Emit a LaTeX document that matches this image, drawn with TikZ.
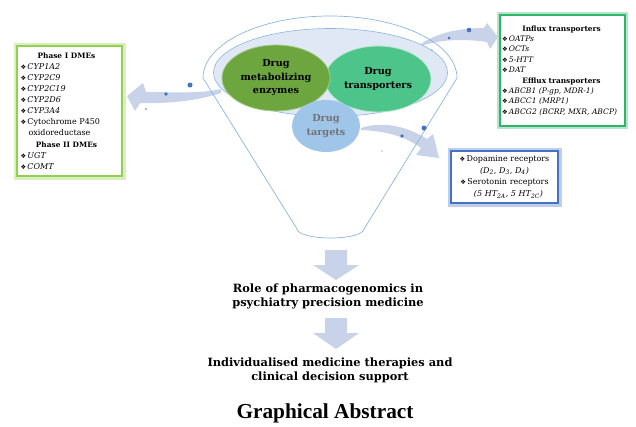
\documentclass[tikz,border=0pt]{standalone}
\usepackage{fontspec}
\setmainfont{DejaVu Serif}
\newfontfamily\symf{DejaVu Sans}
\newfontfamily\timesf{Liberation Serif}
\usetikzlibrary{shapes.geometric}
\definecolor{arrowc}{HTML}{C8D3EA}
\definecolor{dotc}{HTML}{4472C4}
\definecolor{funnelc}{HTML}{8AB6DE}
\definecolor{innerc}{HTML}{DFE8F4}
\definecolor{dmegreen}{HTML}{6DA53E}
\definecolor{trgreen}{HTML}{4DC48A}
\definecolor{tgtblue}{HTML}{9FC5E8}
\definecolor{tgtdark}{HTML}{5A9BD5}
\definecolor{boxgreen}{HTML}{92D050}
\definecolor{boxteal}{HTML}{2FB56A}
\definecolor{boxblue}{HTML}{4472C4}
\newcommand{\bul}{{\symf\fontsize{6.3}{6}\selectfont ❖}\,}
\newcommand{\ttl}[2]{\makebox[#1]{\fontsize{7.4}{8}\selectfont\bfseries #2}}
\tikzset{
  curvearrow/.style={fill=arrowc},
  dot/.style={fill=dotc},
  boxtext/.style={fill=white, inner xsep=3pt, font=\fontsize{8}{11.1}\selectfont, align=left},
  glowgreen/.style={boxtext, draw=boxgreen, line width=1.4, preaction={draw=boxgreen!35, line width=7}},
  glowteal/.style={boxtext, draw=boxteal, line width=1.6, preaction={draw=boxteal!35, line width=6}},
  glowblue/.style={boxtext, draw=boxblue, line width=1.4, preaction={draw=boxblue!35, line width=7}},
  bubble/.style={ellipse, inner sep=0pt, align=center, font=\bfseries\fontsize{9.7}{13.5}\selectfont},
  downarrow/.style={fill=arrowc},
  maintext/.style={align=center, font=\bfseries\fontsize{11.4}{14}\selectfont}
}
\begin{document}
\begin{tikzpicture}[x=1pt,y=-1pt]
\useasboundingbox (0,0) rectangle (636,426);

% curved arrows
\fill[curvearrow] (221,89) .. controls (200,94) and (170,92) .. (146,92) -- (143,83) -- (127,96) -- (135,111) -- (140,103) .. controls (170,104) and (200,100) .. (221,93) -- cycle;
\fill[curvearrow] (416,48) .. controls (430,35) and (455,28) .. (484,28) -- (487,23) -- (498,37) -- (490,49) -- (487,42) .. controls (460,38) and (435,40) .. (416,48) -- cycle;
\fill[curvearrow] (361,128) .. controls (385,120) and (410,128) .. (427,139) -- (433,134) -- (439,158) -- (416,155) -- (421,148) .. controls (405,136) and (385,131) .. (361,130) -- cycle;

% funnel
\draw[funnelc, line width=0.7] (203,78) arc[start angle=180, end angle=360, x radius=127, y radius=62] -- (364,229) arc[start angle=0, end angle=180, x radius=33.5, y radius=9] -- cycle;
\filldraw[fill=innerc, draw=funnelc, line width=0.6] (330.5,72.5) ellipse[x radius=117, y radius=44];

% bubbles
\node[bubble, fill=trgreen, draw=white!60!trgreen, line width=0.8, minimum width=106, minimum height=66] (tr) at (378,79) {Drug\\transporters};
\node[bubble, fill=dmegreen, draw=white!40!dmegreen, line width=0.8, minimum width=108, minimum height=66] (dme) at (276,78) {Drug\\metabolizing\\enzymes};
\node[bubble, fill=tgtblue, minimum width=68, minimum height=52, text=black!55,
  path picture={\fill[tgtdark] (330.5,72.5) ellipse[x radius=117, y radius=44];}] (tg) at (326,126) {Drug\\targets};

% dots
\fill[dot] (190,85) circle (2.5);
\fill[dot] (166,94) circle (1.8);
\fill[dot] (146,109) circle (0.9);
\fill[dot] (469,30) circle (2.3);
\fill[dot] (449,38) circle (1.5);
\fill[dot] (432,50) circle (0.7);
\fill[dot] (424,128) circle (2.5);
\fill[dot] (402,136) circle (1.8);
\fill[dot] (382,151) circle (0.7);

% boxes
\node[glowgreen, text width=98, minimum width=105, minimum height=130] (dmebox) at (69.5,111) {%
\ttl{92pt}{Phase I DMEs}\\
\bul\textit{CYP1A2}\\
\bul\textit{CYP2C9}\\
\bul\textit{CYP2C19}\\
\bul\textit{CYP2D6}\\
\bul\textit{CYP3A4}\\
\bul Cytochrome P450\\
\hspace*{8pt}oxidoreductase\\
\ttl{92pt}{Phase II DMEs}\\
\bul\textit{UGT}\\
\bul\textit{COMT}};

\node[glowteal, text width=121, inner xsep=2pt, minimum width=125, minimum height=111, font=\fontsize{7.6}{10.4}\selectfont] (trbox) at (562.5,70.5) {%
\ttl{119pt}{Influx transporters}\\
\bul\textit{OATPs}\\
\bul\textit{OCTs}\\
\bul\textit{5-HTT}\\
\bul\textit{DAT}\\
\ttl{119pt}{Efflux transporters}\\
\bul\textit{ABCB1 (P-gp, MDR-1)}\\
\bul\textit{ABCC1 (MRP1)}\\
\bul\textit{ABCG2 (BCRP, MXR, ABCP)}};

\node[glowblue, text width=101, minimum width=105, minimum height=52, align=center, font=\fontsize{8}{11.7}\selectfont] (tgbox) at (504.5,177) {%
\bul Dopamine receptors\\
\textit{(D\textsubscript{2}, D\textsubscript{3}, D\textsubscript{4})}\\
\bul Serotonin receptors\\
\hspace*{8pt}\textit{(5 HT\textsubscript{2A}, 5 HT\textsubscript{2C})}};

% down arrows
\fill[downarrow] (325,250) -- (347,250) -- (347,265) -- (359,265) -- (336,280) -- (313,265) -- (325,265) -- cycle;
\fill[downarrow] (325,318) -- (347,318) -- (347,333) -- (359,333) -- (336,349) -- (313,333) -- (325,333) -- cycle;

% texts
\node[maintext] (role) at (328,296) {Role of pharmacogenomics in\\psychiatry precision medicine};
\node[maintext] (indiv) at (330,370) {Individualised medicine therapies and\\clinical decision support};
\node[font=\timesf\bfseries\fontsize{21.3}{24}\selectfont] (ga) at (325,413) {Graphical Abstract};
\end{tikzpicture}
\end{document}
